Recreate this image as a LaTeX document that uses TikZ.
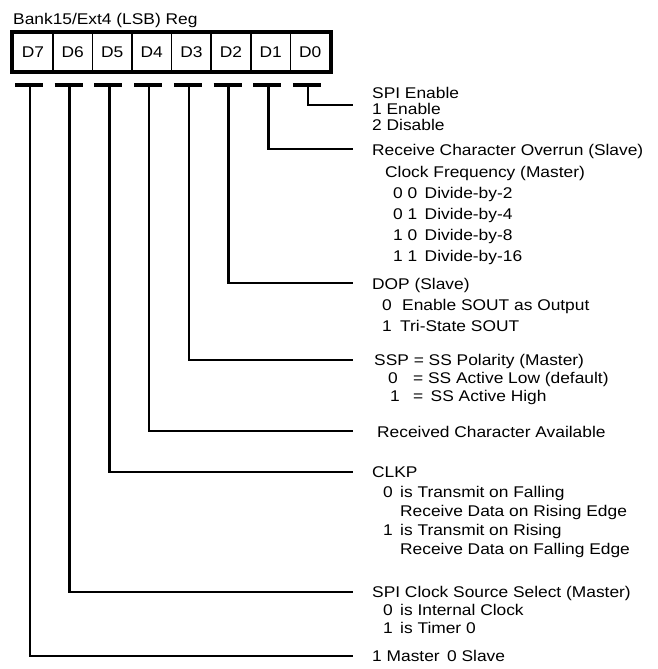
\documentclass[tikz,border=0pt]{standalone}
\usepackage{fontspec}
\setmainfont[FakeStretch=1.12]{Liberation Sans}
\begin{document}
\begin{tikzpicture}[x=1pt,y=-1pt,
  txt/.style={anchor=base west, inner sep=0pt, font=\fontsize{15.5}{18}\selectfont},
  cell/.style={draw, line width=1.6pt, minimum width=39.6pt, minimum height=38pt, inner sep=0pt, font=\fontsize{15.5}{18}\selectfont},
  bar/.style={line width=4pt},
  frame/.style={line width=4pt},
  wire/.style={line width=2.6pt}]
\useasboundingbox (0,0) rectangle (657,669);
% title
\node[txt] (title) at (13,25) {Bank15/Ext4 (LSB) Reg};
% register cells
\foreach \lab [count=\i from 0] in {D7,D6,D5,D4,D3,D2,D1,D0} {
  \node[cell] (\lab) at ({33+39.6*\i},52) {\lab};
  \coordinate (t\lab) at ({30+39.7*\i},85);
  \draw[bar] ([xshift=-15pt]t\lab) -- ([xshift=13pt]t\lab);
}
\draw[frame] (D7.north west) rectangle (D0.south east);
% connector ends
\coordinate (eD0) at (353,105);
\coordinate (eD1) at (353,149);
\coordinate (eD2) at (353,283);
\coordinate (eD3) at (353,360);
\coordinate (eD4) at (353,431);
\coordinate (eD5) at (353,472);
\coordinate (eD6) at (353,592);
\coordinate (eD7) at (353,656);
\foreach \lab in {D0,D1,D2,D3,D4,D5,D6,D7}
  \draw[wire] (t\lab) |- (e\lab);
% D0
\node[txt] (a1) at (372,98.5) {SPI Enable};
\node[txt] (a2) at (372,114.5) {1 Enable};
\node[txt] (a3) at (372,130.5) {2 Disable};
% D1
\node[txt] (b1) at (372,155.5) {Receive Character Overrun (Slave)};
\node[txt] (b2) at (385,177.5) {Clock Frequency (Master)};
\node[txt] (b3) at (393,198.5) {0 0\, Divide-by-2};
\node[txt] (b4) at (393,219.5) {0 1\, Divide-by-4};
\node[txt] (b5) at (393,240.5) {1 0\, Divide-by-8};
\node[txt] (b6) at (393,261.5) {1 1\, Divide-by-16};
% D2
\node[txt] (c1) at (372,289.5) {DOP (Slave)};
\node[txt] (c2) at (382,310.5) {\makebox[20pt][l]{0}Enable SOUT as Output};
\node[txt] (c3) at (382,331.5) {\makebox[18pt][l]{1}Tri-State SOUT};
% D3
\node[txt] (d1) at (374,365.5) {SSP = SS Polarity (Master)};
\node[txt] (d2) at (388,383) {\makebox[25pt][l]{0}= SS Active Low (default)};
\node[txt] (d3) at (390,401) {\makebox[23pt][l]{1}=\,\ SS Active High};
% D4
\node[txt] (f1) at (377,437) {Received Character Available};
% D5
\node[txt] (g1) at (372,477.5) {CLKP};
\node[txt] (g2) at (383,497) {\makebox[17pt][l]{0}is Transmit on Falling};
\node[txt] (g3) at (400,516) {Receive Data on Rising Edge};
\node[txt] (g4) at (383,535) {\makebox[17pt][l]{1}is Transmit on Rising};
\node[txt] (g5) at (400,554) {Receive Data on Falling Edge};
% D6
\node[txt] (h1) at (372,597.5) {SPI Clock Source Select (Master)};
\node[txt] (h2) at (383,615.5) {\makebox[17pt][l]{0}is Internal Clock};
\node[txt] (h3) at (383,633.5) {\makebox[17pt][l]{1}is Timer 0};
% D7
\node[txt] (k1) at (372,661.5) {1 Master\, 0 Slave};
\end{tikzpicture}
\end{document}
